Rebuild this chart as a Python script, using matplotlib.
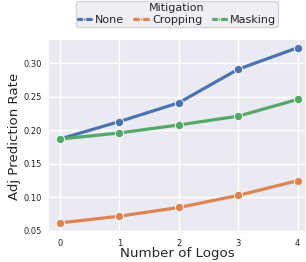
import matplotlib
matplotlib.use("Agg")
import matplotlib.pyplot as plt
import seaborn as sns

num_logos = [0, 1, 2, 3, 4]
none_rate = [0.187, 0.213, 0.241, 0.291, 0.323]
cropping_rate = [0.062, 0.072, 0.085, 0.103, 0.125]
masking_rate = [0.187, 0.196, 0.208, 0.221, 0.246]
y_ticks = [0.05, 0.10, 0.15, 0.20, 0.25, 0.30]

sns.set_theme(style="darkgrid")
palette = sns.color_palette("deep")

fig = plt.figure(figsize=(3.06, 2.62), dpi=100)
ax = fig.add_axes([48 / 306, 1 - 233 / 262, 258 / 306, (233 - 39) / 262])

series = [("None", none_rate, palette[0]),
          ("Cropping", cropping_rate, palette[1]),
          ("Masking", masking_rate, palette[2])]
for name, vals, color in series:
    ax.plot(num_logos, vals, color=color, lw=2.3, marker="o", ms=6,
            markeredgecolor="white", markeredgewidth=0.6, label=name)

ax.set_xlim(-0.2, 4.14)
ax.set_ylim(0.047, 0.336)
ax.set_xticks(num_logos)
ax.set_yticks(y_ticks)
ax.set_yticklabels([f"{t:.2f}" for t in y_ticks])
ax.tick_params(labelsize=6, length=0, pad=4.2)
ax.set_xlabel("Number of Logos", fontsize=9.6)
ax.set_ylabel("Adj Prediction Rate", fontsize=9.6)
ax.xaxis.set_label_coords(0.5, -0.07)
ax.yaxis.set_label_coords(-0.105, 0.5)

leg = ax.legend(title="Mitigation", ncol=3, loc="lower center",
                bbox_to_anchor=(0.5, 1.035), fontsize=8, title_fontsize=8,
                markerscale=0.35, handlelength=1.2, handletextpad=0.4,
                columnspacing=0.9, borderpad=0.15, labelspacing=0.2)

fig.savefig("out.png", dpi=100)
